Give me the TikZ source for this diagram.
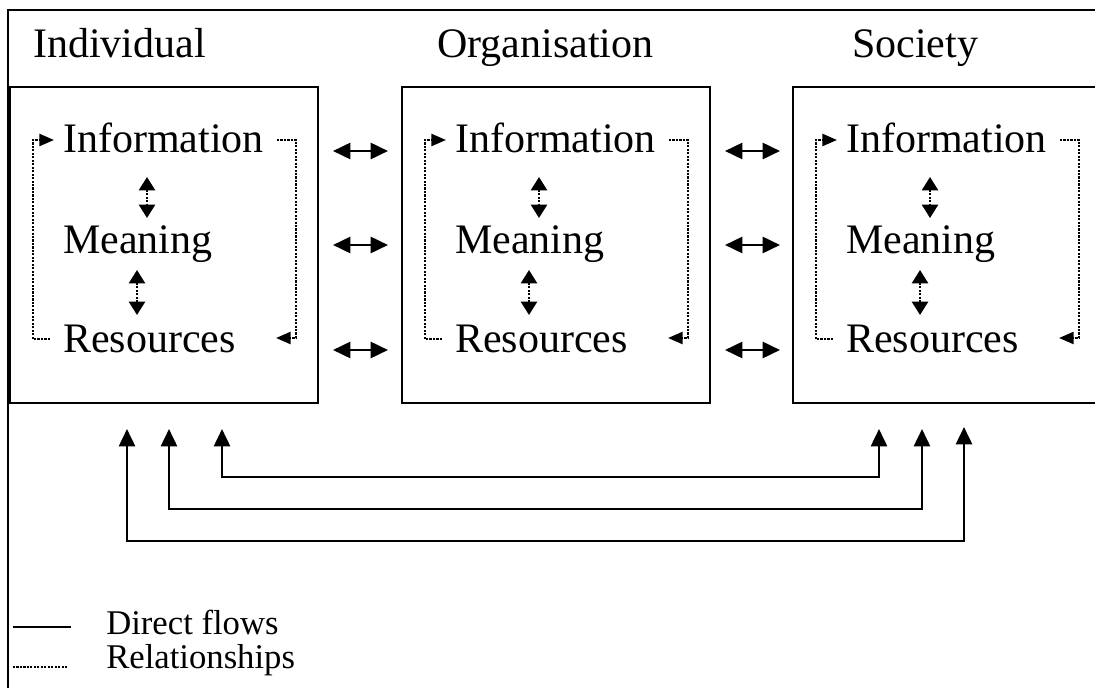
\documentclass[tikz,border=0pt]{standalone}
\usepackage{fontspec}
\setmainfont{Liberation Serif}
\usetikzlibrary{arrows.meta}
\tikzset{
  frame/.style={line width=2pt},
  panel/.style={draw, line width=1.5pt, minimum width=231pt, minimum height=237pt, inner sep=0pt},
  lbl/.style={font=\fontsize{31.5}{36}\selectfont, inner sep=0pt, anchor=base west},
  legtxt/.style={font=\fontsize{26}{30}\selectfont, inner sep=0pt, anchor=base west},
  flow/.style={line width=2pt, {Triangle[length=13pt,width=12pt]}-{Triangle[length=13pt,width=12pt]}},
  upflow/.style={line width=2pt, {Triangle[length=13pt,width=12pt]}-{Triangle[length=13pt,width=12pt]}},
  rel/.style={line width=1.8pt, dash pattern=on 1.6pt off 1pt},
  relarrow/.style={rel, -{Triangle[length=11pt,width=9pt]}},
  relboth/.style={rel, {Triangle[length=10pt,width=12pt]}-{Triangle[length=10pt,width=12pt]}}
}
\begin{document}
\begin{tikzpicture}[x=0.75pt,y=-0.75pt]
\useasboundingbox (0,0) rectangle (1095,688);
\clip (0,0) rectangle (1095,688);
% outer frame (cut at right and bottom)
\coordinate (fbl) at (8,700);
\coordinate (ftl) at (8,10);
\coordinate (ftr) at (1110,10);
\draw[frame] (fbl) -- (ftl) -- (ftr);
% headings
\node[lbl] (hind) at (33,58) {Individual};
\node[lbl] (horg) at (437,58) {Organisation};
\node[lbl] (hsoc) at (852,58) {Society};
% panels
\foreach \L/\n in {10/ind,402/org,793/soc} {
  \node[panel] (\n box) at ({\L+154},245) {};
  \node[lbl] (\n info) at ({\L+53},152) {Information};
  \node[lbl] (\n mean) at ({\L+53},253) {Meaning};
  \node[lbl] (\n res) at ({\L+53},352) {Resources};
  % relationship loop
  \coordinate (\n la) at ({\L+40},339);
  \coordinate (\n lb) at ({\L+23},339);
  \coordinate (\n lc) at ({\L+23},140);
  \coordinate (\n ld) at ({\L+44},140);
  \draw[relarrow] (\n la) -- (\n lb) -- (\n lc) -- (\n ld);
  \coordinate (\n ra) at ({\L+267},140);
  \coordinate (\n rb) at ({\L+286},140);
  \coordinate (\n rc) at ({\L+286},338);
  \coordinate (\n rd) at ({\L+266},338);
  \draw[relarrow] (\n ra) -- (\n rb) -- (\n rc) -- (\n rd);
  % inner vertical relationships
  \coordinate (\n v1a) at ({\L+137},177);
  \coordinate (\n v1b) at ({\L+137},218);
  \draw[relboth] (\n v1a) -- (\n v1b);
  \coordinate (\n v2a) at ({\L+127},270);
  \coordinate (\n v2b) at ({\L+127},315);
  \draw[relboth] (\n v2a) -- (\n v2b);
}
% horizontal flows between panels
\foreach \L/\n in {10/a,402/b} {
  \foreach \y/\k in {151/1,245/2,350/3} {
    \coordinate (h\n\k s) at ({\L+323},\y);
    \coordinate (h\n\k e) at ({\L+378},\y);
    \draw[flow] (h\n\k s) -- (h\n\k e);
  }
}
% direct flows between Individual and Society
\coordinate (b1a) at (222,429); \coordinate (b1b) at (222,477);
\coordinate (b1c) at (879,477); \coordinate (b1d) at (879,429);
\draw[upflow] (b1a) -- (b1b) -- (b1c) -- (b1d);
\coordinate (b2a) at (169,429); \coordinate (b2b) at (169,509);
\coordinate (b2c) at (922,509); \coordinate (b2d) at (922,429);
\draw[upflow] (b2a) -- (b2b) -- (b2c) -- (b2d);
\coordinate (b3a) at (127,429); \coordinate (b3b) at (127,541);
\coordinate (b3c) at (964,541); \coordinate (b3d) at (964,427);
\draw[upflow] (b3a) -- (b3b) -- (b3c) -- (b3d);
% legend
\coordinate (l1a) at (13,627); \coordinate (l1b) at (71,627);
\draw[line width=1.5pt] (l1a) -- (l1b);
\coordinate (l2a) at (13,667); \coordinate (l2b) at (68,667);
\draw[rel] (l2a) -- (l2b);
\node[legtxt] (ldirect) at (106,634) {Direct flows};
\node[legtxt] (lrel) at (106,668) {Relationships};
\end{tikzpicture}
\end{document}
